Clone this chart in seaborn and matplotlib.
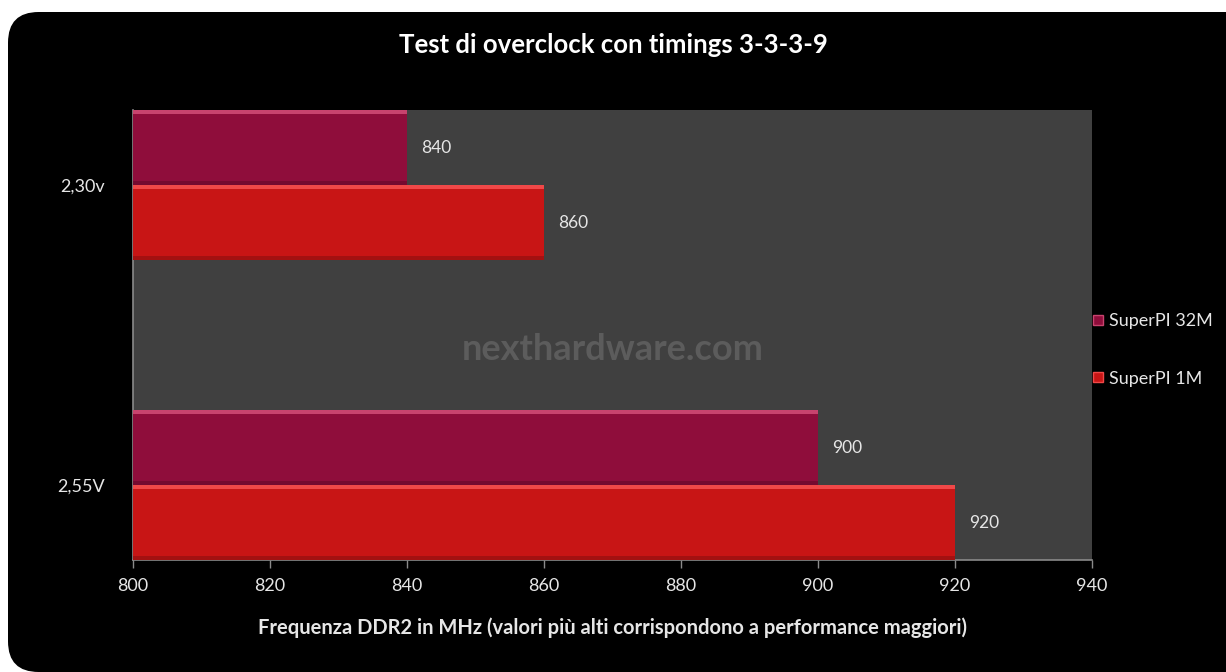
import matplotlib
matplotlib.use("Agg")
import matplotlib.pyplot as plt
from matplotlib.patches import FancyBboxPatch, Rectangle
from matplotlib.lines import Line2D
import seaborn as sns
import pandas as pd

# Data
voltages = ["2,30v", "2,55V"]
series = ["SuperPI 32M", "SuperPI 1M"]
superpi_32m = [840, 900]
superpi_1m = [860, 920]
x_ticks = [800, 820, 840, 860, 880, 900, 920, 940]

colors = {"SuperPI 32M": "#8f0d3b", "SuperPI 1M": "#c81515"}
highlight = {"SuperPI 32M": "#c8436e", "SuperPI 1M": "#f04848"}

df = pd.DataFrame({
    "Tensione": voltages * 2,
    "Serie": [series[0]] * 2 + [series[1]] * 2,
    "MHz": superpi_32m + superpi_1m,
})

sns.set_theme(style="dark")
plt.rcParams["font.family"] = ["Lato", "DejaVu Sans"]

fig = plt.figure(figsize=(12.26, 6.72), dpi=100)
fig.patch.set_facecolor("white")

# black rounded panel behind everything
panel = FancyBboxPatch((8 / 1226, 0), 1.2, 660 / 672, transform=fig.transFigure,
                       boxstyle="round,pad=0,rounding_size=0.025",
                       facecolor="black", edgecolor="none", zorder=-10,
                       mutation_aspect=1226 / 672)
fig.patches.append(panel)

ax = fig.add_axes([133 / 1226, 1 - 560 / 672, (1092 - 133) / 1226, 450 / 672])
ax.set_zorder(2)
ax.set_facecolor("#404040")

sns.barplot(data=df, y="Tensione", x="MHz", hue="Serie", hue_order=series,
            order=voltages, palette=colors, orient="h", width=0.5,
            saturation=1, ax=ax, legend=False, linewidth=0, zorder=3)

ax.set_xlim(800, 940)
ax.set_ylim(1.25, -0.25)
ax.set_xticks(x_ticks)
ax.set_xticklabels([str(t) for t in x_ticks])
ax.grid(False)

# top highlight strip and value label on each bar, from the drawn bar geometry
for cont, name in zip(ax.containers, series):
    vals = superpi_32m if name == series[0] else superpi_1m
    for bar, v in zip(cont.patches, vals):
        y0 = bar.get_y()
        h = bar.get_height()
        ax.add_patch(Rectangle((800, y0), v - 800, h * 0.05,
                               facecolor=highlight[name], edgecolor="none", zorder=4))
        ax.add_patch(Rectangle((800, y0 + h * 0.94), v - 800, h * 0.06,
                               facecolor="#000000", alpha=0.18, edgecolor="none", zorder=4))
        ax.text(v + 2.0, y0 + h / 2, f"{v}", color="#e6e6e6", fontsize=12.5,
                va="center", ha="left", zorder=5)

for side in ["top", "right"]:
    ax.spines[side].set_visible(False)
for side in ["left", "bottom"]:
    ax.spines[side].set_visible(True)
    ax.spines[side].set_color("#8a8a8a")
    ax.spines[side].set_linewidth(1.2)

ax.tick_params(axis="x", colors="#8a8a8a", length=6, width=1, direction="out",
               labelcolor="#e6e6e6", labelsize=13, pad=7, bottom=True)
ax.tick_params(axis="y", length=0, labelcolor="#e6e6e6", labelsize=13, pad=20)

ax.set_ylabel("")
ax.set_xlabel("Frequenza DDR2 in MHz (valori più alti corrispondono a performance maggiori)",
              color="#e6e6e6", fontsize=14.5, fontweight="bold", labelpad=17)

# watermark
ax.text(0.5, 0.467, "nexthardware.com", transform=ax.transAxes, ha="center", va="center",
        color="#5c5c5c", fontsize=26, fontweight="bold", zorder=2)

fig.text(0.5, 1 - 45 / 672, "Test di overclock con timings 3-3-3-9", ha="center",
         va="center", color="white", fontsize=18.5, fontweight="bold")

handles = [Line2D([0], [0], marker="s", linestyle="none", markersize=7,
                  markerfacecolor=colors[s], markeredgecolor=highlight[s]) for s in series]
leg = fig.legend(handles, series, loc="center left", bbox_to_anchor=(1082 / 1226, 1 - 350 / 672),
                 frameon=False, fontsize=13, labelspacing=2.3, handletextpad=0.2,
                 handlelength=0.8, borderpad=0)
for t in leg.get_texts():
    t.set_color("#e6e6e6")

fig.savefig("out.png", dpi=100, facecolor=fig.get_facecolor())
